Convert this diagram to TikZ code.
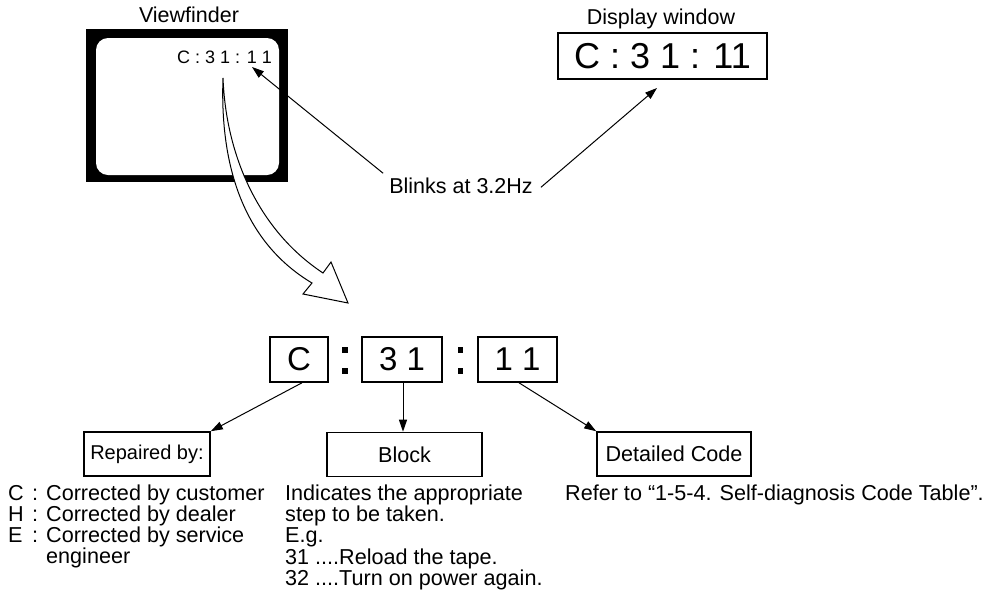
\documentclass[tikz,border=0pt]{standalone}
\usepackage{fontspec}
\setmainfont{Liberation Sans}
\usetikzlibrary{arrows.meta}

\tikzset{
  lbl/.style={inner sep=0pt, font=\fontsize{21.5}{21.5}\selectfont},
  txt/.style={inner sep=0pt, anchor=base west, font=\fontsize{21.6}{21.6}\selectfont},
  codebox/.style={draw, line width=1.6pt, inner sep=0pt, minimum height=45pt,
    font=\fontsize{33}{33}\selectfont},
  capbox/.style={draw, line width=1.6pt, inner sep=0pt, minimum height=44pt,
    font=\fontsize{21.6}{21.6}\selectfont},
  ptr/.style={line width=1pt, -{Triangle[length=12pt,width=8pt]}},
  coldot/.style={fill=black}
}

\begin{document}
\begin{tikzpicture}[x=1pt,y=-1pt]
\useasboundingbox (0,0) rectangle (989,598);

% --- viewfinder screen ---
\node[lbl, anchor=base] (vftitle) at (189,22) {Viewfinder};
\fill[black] (86,29) rectangle (288,182);
\fill[white, rounded corners=12pt] (96,38) rectangle (279,175);
\node[inner sep=0pt, anchor=base east, font=\fontsize{18}{18}\selectfont]
  (vfcode) at (272,63) {C : 3 1 : 1 1};
\coordinate (vftip) at (252,67);

% --- display window ---
\node[lbl, anchor=base] (dwtitle) at (661,24) {Display window};
\node[draw, line width=1.6pt, inner sep=0pt, minimum width=209pt, minimum height=46pt,
  font=\fontsize{36}{36}\selectfont] (disp) at (662.5,56) {C : 3 1 : 11};
\coordinate (dwtip) at (657,88);

% --- blink note ---
\node[lbl, anchor=base] (blink) at (461,193) {Blinks at 3.2Hz};
\draw[ptr] ([xshift=-6pt,yshift=4pt]blink.north west) -- (vftip);
\draw[ptr] ([xshift=8pt,yshift=-2pt]blink.east) -- (dwtip);

% --- hollow curved arrow from the screen to the code ---
\draw[line width=1pt, fill=white, line join=miter]
  (223,78) .. controls (220,160) and (240,240) .. (312,283)
  -- (303,294) -- (348,303) -- (331,262) -- (323,273)
  .. controls (258,230) and (226,155) .. (223,78) -- cycle;

% --- enlarged code ---
\node[codebox, minimum width=58pt] (cbox) at (299,359.5) {C};
\node[codebox, minimum width=80pt] (bbox) at (402,359.5) {3 1};
\node[codebox, minimum width=79pt] (dbox) at (517.5,359.5) {1 1};
\fill[coldot] (342,347) rectangle (347.5,353);
\fill[coldot] (342,368) rectangle (347.5,374);
\fill[coldot] (457.5,347) rectangle (463,353);
\fill[coldot] (457.5,368) rectangle (463,374);

% --- field captions ---
\node[capbox, minimum width=126pt, font=\fontsize{20}{20}\selectfont] (rep) at (147,454) {Repaired by:};
\node[capbox, minimum width=155pt] (blk) at (404.5,454.5) {Block};
\node[capbox, minimum width=154pt] (det) at (674,454) {Detailed Code};

\draw[ptr] ([xshift=3pt]cbox.south) -- (rep.north east);
\draw[ptr] ([xshift=1pt]bbox.south) -- ([xshift=-1.5pt]blk.north);
\draw[ptr] ([xshift=1.5pt]dbox.south) -- (det.north west);

% --- explanations ---
\node[txt] (r1) at (8,500) {\makebox[24pt][l]{C}:\hspace{8pt}Corrected by customer};
\node[txt] (r2) at (8,521) {\makebox[24pt][l]{H}:\hspace{8pt}Corrected by dealer};
\node[txt] (r3) at (8,542) {\makebox[24pt][l]{E}:\hspace{8pt}Corrected by service};
\node[txt] (r4) at (46,563) {engineer};

\node[txt] (b1) at (285,500) {Indicates the appropriate};
\node[txt] (b2) at (285,521) {step to be taken.};
\node[txt] (b3) at (285,542) {E.g.};
\node[txt] (b4) at (285,564) {31 ....Reload the tape.};
\node[txt] (b5) at (285,585) {32 ....Turn on power again.};

\node[txt] (d1) at (565,500) {Refer to “1-5-4. Self-diagnosis Code Table”.};
\end{tikzpicture}
\end{document}
